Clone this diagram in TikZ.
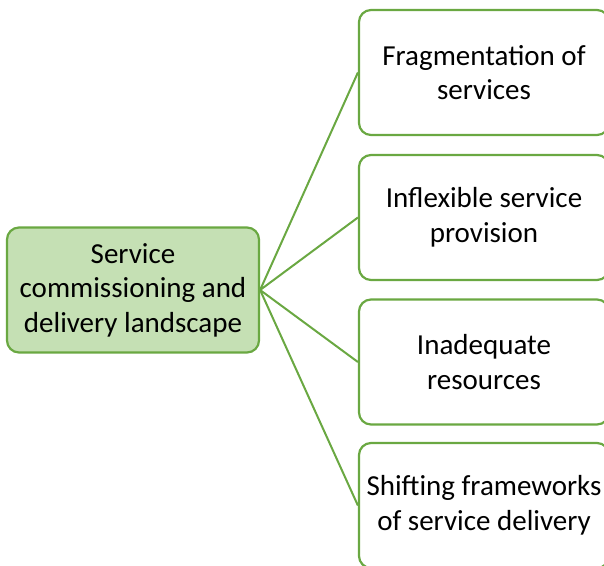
\documentclass[tikz,border=0pt]{standalone}
\usepackage{fontspec}
\setmainfont{Carlito}
\definecolor{edgegreen}{HTML}{6AA842}
\definecolor{fillgreen}{HTML}{C5E0B4}
\begin{document}
\begin{tikzpicture}[x=1pt,y=-1pt,
  box/.style={draw=edgegreen, line width=2.2pt, rounded corners=12pt, minimum width=250pt, minimum height=125pt, align=center, font=\fontsize{29}{34.5}\selectfont, inner sep=0pt},
  link/.style={draw=edgegreen, line width=2pt}]
\useasboundingbox (0,0) rectangle (604,565);
\node[box, fill=fillgreen, minimum width=252pt] (root) at (133,290) {Service\\commissioning and\\delivery landscape};
\node[box, fill=white] (b1) at (484,72.5) {Fragmentation of\\services};
\node[box, fill=white] (b2) at (484,217.5) {Inflexible service\\provision};
\node[box, fill=white] (b3) at (484,362) {Inadequate\\resources};
\node[box, fill=white] (b4) at (484,505.5) {Shifting frameworks\\of service delivery};
\foreach \b in {b1,b2,b3,b4} \draw[link] (root.east) -- (\b.west);
\end{tikzpicture}
\end{document}
